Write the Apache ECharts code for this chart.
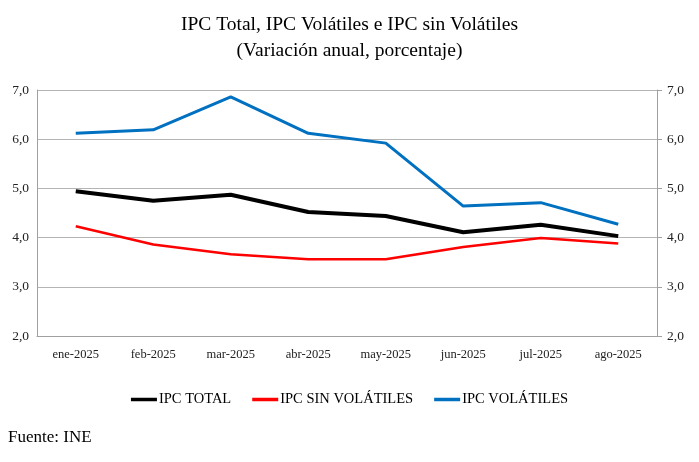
<!DOCTYPE html>
<html>
<head>
<meta charset="utf-8">
<script src="https://cdn.jsdelivr.net/npm/echarts@6/dist/echarts.min.js"></script>
<style>
  html, body { margin: 0; padding: 0; background: #fff; }
  #chart { width: 699px; height: 462px; }
</style>
</head>
<body>
<div id="chart"></div>
<script>
// Data
const months = ['ene-2025', 'feb-2025', 'mar-2025', 'abr-2025', 'may-2025', 'jun-2025', 'jul-2025', 'ago-2025'];
const ipcTotal = [4.94, 4.75, 4.87, 4.52, 4.44, 4.11, 4.26, 4.03];
const ipcSinVolatiles = [4.23, 3.86, 3.66, 3.56, 3.56, 3.81, 3.99, 3.88];
const ipcVolatiles = [6.12, 6.19, 6.86, 6.12, 5.92, 4.64, 4.71, 4.27];

const serif = 'Liberation Serif';
const fmt = v => v.toFixed(1).replace('.', ',');

const chart = echarts.init(document.getElementById('chart'));

const yAxisBase = {
    type: 'value',
    min: 2,
    max: 7,
    interval: 1,
    axisLine: { show: true, lineStyle: { color: '#a0a0a0', width: 1 } },
    axisLabel: { formatter: fmt, color: '#222', fontFamily: serif, fontSize: 13.5 }
};

chart.setOption({
    backgroundColor: '#fff',
    animation: false,
    title: {
        text: 'IPC Total, IPC Volátiles e IPC sin Volátiles\n(Variación anual, porcentaje)',
        left: 'center',
        top: 7,
        textStyle: { fontFamily: serif, fontSize: 19.5, fontWeight: 'normal', color: '#000', lineHeight: 26 }
    },
    graphic: [{
        type: 'text',
        left: 8,
        top: 429,
        style: { text: 'Fuente: INE', font: '17px "Liberation Serif"', fill: '#000' }
    }],
    legend: {
        bottom: 50,
        left: 'center',
        icon: 'rect',
        itemWidth: 26,
        itemHeight: 3.5,
        itemGap: 21,
        textStyle: { fontFamily: serif, fontSize: 14.5, color: '#000', padding: [0, 0, 0, -3] },
        data: ['IPC TOTAL', 'IPC SIN VOLÁTILES', 'IPC VOLÁTILES']
    },
    grid: { left: 37, right: 42, top: 90, bottom: 126 },
    xAxis: {
        type: 'category',
        data: months,
        axisLine: { lineStyle: { color: '#a0a0a0' } },
        axisTick: { show: false },
        axisLabel: { color: '#222', fontFamily: serif, fontSize: 12.5, margin: 12 }
    },
    yAxis: [
        Object.assign({}, yAxisBase, {
            position: 'left',
            axisTick: { show: false },
            splitLine: { lineStyle: { color: '#b4b4b4' } }
        }),
        Object.assign({}, yAxisBase, {
            position: 'right',
            axisTick: { show: true, length: 5, lineStyle: { color: '#a0a0a0' } },
            splitLine: { show: false },
            axisLabel: Object.assign({}, yAxisBase.axisLabel, { margin: 10 })
        })
    ],
    series: [
        {
            name: 'IPC TOTAL', type: 'line', data: ipcTotal, symbol: 'none',
            lineStyle: { color: '#000', width: 4 }, itemStyle: { color: '#000' }, z: 4
        },
        {
            name: 'IPC SIN VOLÁTILES', type: 'line', data: ipcSinVolatiles, symbol: 'none',
            lineStyle: { color: '#ff0000', width: 2.5 }, itemStyle: { color: '#ff0000' }, z: 3
        },
        {
            name: 'IPC VOLÁTILES', type: 'line', data: ipcVolatiles, symbol: 'none',
            lineStyle: { color: '#0070c0', width: 3 }, itemStyle: { color: '#0070c0' }, z: 2
        }
    ]
});
</script>
</body>
</html>
